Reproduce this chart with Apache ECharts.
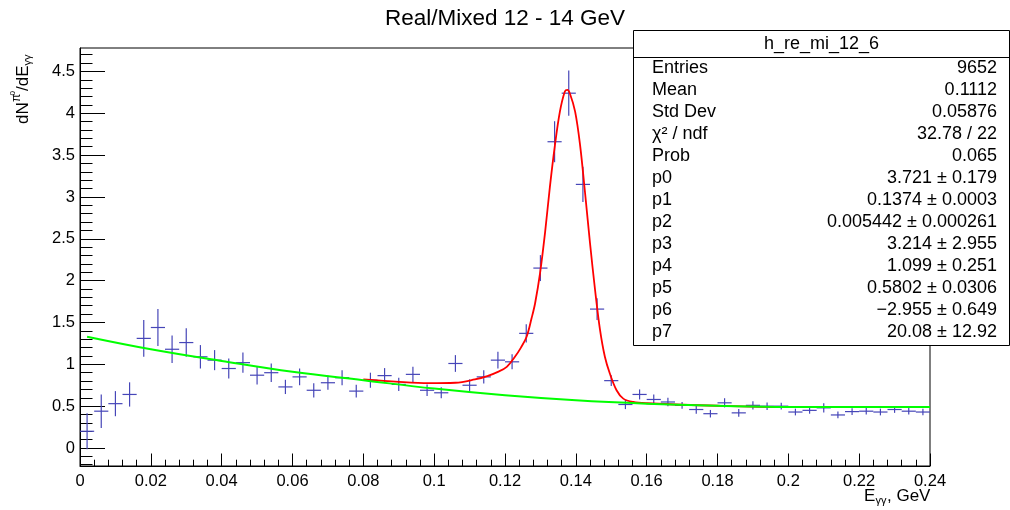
<!DOCTYPE html>
<html>
<head>
<meta charset="utf-8">
<script src="https://cdn.jsdelivr.net/npm/echarts@6/dist/echarts.min.js"></script>
<style>
  html, body { margin: 0; padding: 0; background: #ffffff; }
  #chart { width: 1010px; height: 510px; }
</style>
</head>
<body>
<div id="chart"></div>
<script>
// Histogram binning: 60 bins of 4 MeV from 0 to 0.24 GeV
const binStart = 0;
const binWidth = 0.004;

// Real/Mixed ratio per bin
const counts = [
  0.20, 0.44, 0.53, 0.64, 1.31, 1.44, 1.18, 1.26, 1.09, 1.05,
  0.95, 1.02, 0.87, 0.90, 0.73, 0.85, 0.69, 0.78, 0.84, 0.68,
  0.81, 0.865, 0.76, 0.88, 0.69, 0.66, 1.01, 0.75, 0.85, 1.05,
  1.03, 1.37, 2.15, 3.66, 4.24, 3.15, 1.66, 0.805, 0.52, 0.64,
  0.58, 0.55, 0.51, 0.46, 0.41, 0.54, 0.42, 0.51, 0.50, 0.50,
  0.43, 0.45, 0.48, 0.395, 0.435, 0.44, 0.43, 0.46, 0.44, 0.43
];

// Statistical error of each bin
const errors = [
  0.215, 0.20, 0.15, 0.145, 0.22, 0.22, 0.165, 0.17, 0.14, 0.12,
  0.12, 0.12, 0.11, 0.11, 0.085, 0.10, 0.085, 0.085, 0.09, 0.075,
  0.09, 0.09, 0.08, 0.09, 0.07, 0.065, 0.10, 0.07, 0.08, 0.10,
  0.09, 0.11, 0.155, 0.245, 0.27, 0.21, 0.13, 0.065, 0.055, 0.06,
  0.06, 0.05, 0.04, 0.05, 0.045, 0.055, 0.045, 0.05, 0.045, 0.04,
  0.04, 0.04, 0.055, 0.04, 0.04, 0.04, 0.04, 0.04, 0.04, 0.04
];

// Background component of the fit (green)
const bkgX = [0.002, 0.02, 0.04, 0.06, 0.08, 0.10, 0.12, 0.14, 0.16, 0.18, 0.20, 0.22, 0.24];
const bkgY = [1.33, 1.18, 1.04, 0.91, 0.81, 0.71, 0.63, 0.57, 0.53, 0.505, 0.49, 0.49, 0.49];

// Full fit: peak + background (red)
const fitX = [
  0.0800, 0.0900, 0.0985, 0.1060, 0.1115, 0.1150, 0.1180, 0.1205, 0.1228, 0.1245,
  0.1261, 0.1275, 0.1285, 0.1299, 0.1313, 0.1327, 0.1341, 0.1355, 0.1369, 0.1376,
  0.1383, 0.1398, 0.1412, 0.1426, 0.1440, 0.1454, 0.1468, 0.1482, 0.1496, 0.1515,
  0.1534, 0.1562, 0.1600, 0.1800, 0.2000, 0.2200, 0.2400
];
const fitY = [
  0.82, 0.79, 0.775, 0.78, 0.82, 0.86, 0.91, 0.97, 1.09, 1.20,
  1.33, 1.55, 1.73, 2.09, 2.57, 3.13, 3.62, 4.02, 4.26, 4.28,
  4.24, 4.02, 3.62, 3.05, 2.45, 1.90, 1.42, 1.09, 0.89, 0.69,
  0.59, 0.55, 0.535, 0.505, 0.49, 0.49, 0.49
];

// Axis tick labels
const xTickValues = [0, 0.02, 0.04, 0.06, 0.08, 0.1, 0.12, 0.14, 0.16, 0.18, 0.2, 0.22, 0.24];
const yTickValues = [0, 0.5, 1, 1.5, 2, 2.5, 3, 3.5, 4, 4.5];
const yMinorTicks = [];
for (let k = -2; k <= 47; k++) yMinorTicks.push(k / 10);

// Statistics box
const statsTitle = 'h_re_mi_12_6';
const statsLabels = ['Entries', 'Mean', 'Std Dev', 'χ² / ndf', 'Prob', 'p0', 'p1', 'p2', 'p3', 'p4', 'p5', 'p6', 'p7'];
const statsValues = ['9652', '0.1112', '0.05876', '32.78 / 22', '0.065',
  '3.721 ± 0.179', '0.1374 ± 0.0003', '0.005442 ± 0.000261', '3.214 ± 2.955',
  '1.099 ± 0.251', '0.5802 ± 0.0306', '−2.955 ± 0.649', '20.08 ± 12.92'];

const FONT = "'Liberation Sans', Arial, Helvetica, sans-serif";
const markColor = '#4646b8';

const chart = echarts.init(document.getElementById('chart'), null, { renderer: 'canvas' });

const points = counts.map((v, i) => [binStart + binWidth * (i + 0.5), v, errors[i]]);

const txt = (x, y, text, size, extra) => ({
  type: 'text', x: x, y: y,
  style: Object.assign({ text: text, fontSize: size, fontFamily: FONT, fill: '#000',
    verticalAlign: 'middle', align: 'left' }, extra || {})
});

// Stats box children
const statsChildren = [
  { type: 'rect', shape: { x: 633.5, y: 30.5, width: 376, height: 315 },
    style: { fill: '#ffffff', stroke: '#000000', lineWidth: 1 } },
  { type: 'line', shape: { x1: 633.5, y1: 57.5, x2: 1009.5, y2: 57.5 },
    style: { stroke: '#000000', lineWidth: 1 } },
  txt(821.5, 44, statsTitle, 18, { align: 'center' })
];
statsLabels.forEach((lab, i) => {
  statsChildren.push(txt(652, 68 + 22 * i, lab, 18));
  statsChildren.push(txt(997, 68 + 22 * i, statsValues[i], 18, { align: 'right' }));
});

const option = {
  animation: false,
  backgroundColor: '#ffffff',
  title: {
    text: 'Real/Mixed 12 - 14 GeV',
    left: 'center',
    top: 2,
    textStyle: { fontFamily: FONT, fontSize: 22.5, fontWeight: 'normal', color: '#000' }
  },
  grid: {
    left: 80, right: 80, top: 48, bottom: 44,
    show: true, borderColor: '#000', borderWidth: 1, backgroundColor: 'transparent'
  },
  xAxis: {
    type: 'value', min: 0, max: 0.24, interval: 0.02,
    axisLine: { show: true, onZero: false, lineStyle: { color: '#000', width: 1 } },
    axisTick: { show: true, inside: true, length: 12.5, lineStyle: { color: '#000' } },
    minorTick: { show: true, splitNumber: 5, length: 6.3, lineStyle: { color: '#000' } },
    splitLine: { show: false },
    axisLabel: {
      color: '#000', fontSize: 16.5, fontFamily: FONT, margin: 7,
      formatter: v => String(+v.toFixed(2))
    }
  },
  yAxis: [
    {
      type: 'value', min: -0.215, max: 4.78,
      axisLine: { show: true, onZero: false, lineStyle: { color: '#000', width: 1 } },
      axisTick: { show: true, inside: true, length: 25, customValues: yTickValues,
        lineStyle: { color: '#000' } },
      splitLine: { show: false },
      axisLabel: {
        color: '#000', fontSize: 16.5, fontFamily: FONT, margin: 5,
        customValues: yTickValues,
        formatter: v => String(+(+v).toFixed(1))
      }
    },
    {
      type: 'value', min: -0.215, max: 4.78, position: 'left',
      axisLine: { show: false },
      axisTick: { show: true, inside: true, length: 12.5, customValues: yMinorTicks,
        lineStyle: { color: '#000' } },
      axisLabel: { show: false },
      splitLine: { show: false }
    }
  ],
  series: [
    {
      type: 'custom',
      name: 'data',
      z: 1,
      data: points,
      renderItem: function (params, api) {
        const x = api.value(0), y = api.value(1), e = api.value(2);
        const pl = api.coord([x - binWidth / 2, y]);
        const pr = api.coord([x + binWidth / 2, y]);
        const pt = api.coord([x, y + e]);
        const pb = api.coord([x, y - e]);
        const st = { stroke: markColor, lineWidth: 1.2 };
        return {
          type: 'group',
          children: [
            { type: 'line', shape: { x1: pl[0], y1: pl[1], x2: pr[0], y2: pr[1] }, style: st },
            { type: 'line', shape: { x1: pt[0], y1: pt[1], x2: pb[0], y2: pb[1] }, style: st }
          ]
        };
      }
    },
    {
      type: 'line',
      name: 'fit',
      z: 2,
      data: fitX.map((x, i) => [x, fitY[i]]),
      showSymbol: false,
      smooth: 0.35,
      lineStyle: { color: '#ff0000', width: 1.8 },
      silent: true
    },
    {
      type: 'line',
      name: 'background',
      z: 3,
      data: bkgX.map((x, i) => [x, bkgY[i]]),
      showSymbol: false,
      smooth: 0.4,
      lineStyle: { color: '#00ff00', width: 2 },
      silent: true
    }
  ],
  graphic: [
    // y axis title: dN^{π0}/dE_{γγ}
    {
      type: 'group', x: 23, y: 124, rotation: Math.PI / 2,
      children: [
        txt(0, 0, 'dN', 17),
        txt(22, -6, 'π', 12),
        txt(28.5, -10, '0', 8),
        txt(33, 0, '/dE', 17),
        txt(58.5, 5, 'γγ', 11)
      ]
    },
    // x axis title: E_{γγ}, GeV
    {
      type: 'group', x: 0, y: 0,
      children: [
        txt(864, 496, 'E', 17),
        txt(875.5, 501, 'γγ', 11),
        txt(887, 496, ', GeV', 17)
      ]
    },
    { type: 'group', z: 100, children: statsChildren }
  ]
};

chart.setOption(option);
</script>
</body>
</html>
